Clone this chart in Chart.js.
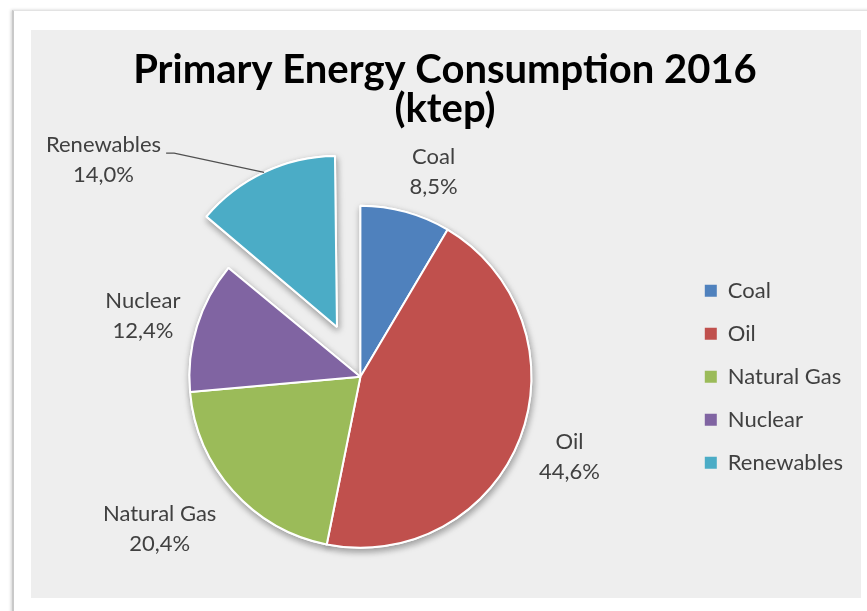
<!DOCTYPE html>
<html>
<head>
<meta charset="utf-8">
<script src="https://cdn.jsdelivr.net/npm/chart.js@4"></script>
<style>
  html, body { margin: 0; padding: 0; background: #fff; overflow: hidden; }
  #frame {
    position: absolute; left: 12px; top: 10px; width: 880px; height: 640px;
    border-left: 2px solid #c9c9c9; border-top: 1px solid #e3e3e3;
    box-shadow: -1px 0 3px rgba(0, 0, 0, 0.18);
  }
  #panel { position: absolute; left: 31px; top: 30px; width: 830px; height: 568px; background: #eeeeee; }
</style>
</head>
<body>
<div id="frame"></div>
<div id="panel"><canvas id="chart"></canvas></div>
<script>
const categories = ["Coal", "Oil", "Natural Gas", "Nuclear", "Renewables"];
const shares = [8.5, 44.6, 20.4, 12.4, 14.0]; // % of total
const sliceColors = ["#4f81bd", "#c0504d", "#9bbb59", "#8064a2", "#4bacc6"];
const explode = [0, 0, 0, 0, 220]; // chart.js moves a slice by offset/4
const titleLines = ["Primary Energy Consumption 2016", "(ktep)"];

// label spot relative to slice middle: [angle shift in deg, distance past the rim]
const labelPlace = [[4.3, 47], [0, 53], [4.7, 81], [-1.5, 55], [-29.2, 116]];

const RADIUS = 171;

// chart.js grows the radius of an exploded slice a bit, undo that
function radiusGrow(arc) {
  const off = (arc.options.offset || 0) / 4;
  const circ = arc.endAngle - arc.startAngle;
  return off * (1 - Math.sin(Math.min(Math.PI, circ)));
}

const keepRadius = {
  id: "keepRadius",
  afterDatasetUpdate(chart, args) {
    args.meta.data.forEach((arc) => {
      arc.outerRadius = RADIUS - radiusGrow(arc);
    });
  },
};

const pieShadow = {
  id: "pieShadow",
  beforeDatasetsDraw(chart) {
    const ctx = chart.ctx;
    ctx.save();
    ctx.shadowColor = "rgba(0,0,0,0.35)";
    ctx.shadowBlur = 7;
    ctx.shadowOffsetX = 1;
    ctx.shadowOffsetY = 3;
    chart.getDatasetMeta(0).data.forEach((a) => a.draw(ctx));
    ctx.restore();
  },
};

const sliceLabels = {
  id: "sliceLabels",
  afterDatasetsDraw(chart) {
    const ctx = chart.ctx;
    const meta = chart.getDatasetMeta(0);
    const total = shares.reduce((a, b) => a + b, 0);
    ctx.save();
    ctx.font = "22px Lato";
    ctx.fillStyle = "#404040";
    ctx.strokeStyle = "#505050";
    ctx.lineWidth = 1.2;
    ctx.textAlign = "center";
    ctx.textBaseline = "middle";
    meta.data.forEach((arc, i) => {
      const mid = (arc.startAngle + arc.endAngle) / 2;
      const off = (arc.options.offset || 0) / 4;
      const r = arc.outerRadius + radiusGrow(arc);
      const cx = arc.x + Math.cos(mid) * off;
      const cy = arc.y + Math.sin(mid) * off;
      const a = mid + (labelPlace[i][0] * Math.PI) / 180;
      const d = r + labelPlace[i][1];
      const lx = cx + Math.cos(a) * d;
      const ly = cy + Math.sin(a) * d;
      const pct = ((shares[i] / total) * 100).toFixed(1).replace(".", ",") + "%";
      ctx.fillText(categories[i], lx, ly - 15);
      ctx.fillText(pct, lx, ly + 15);
      if (off > 0) {
        // leader line from the label to the rim
        const w = ctx.measureText(categories[i]).width;
        const sx = lx + w / 2 + 5;
        const sy = ly - 15 + 8;
        ctx.beginPath();
        ctx.moveTo(sx, sy);
        ctx.lineTo(sx + 8, sy);
        ctx.lineTo(cx + Math.cos(mid) * r, cy + Math.sin(mid) * r);
        ctx.stroke();
      }
    });
    ctx.restore();
  },
};

const pieLegend = (Chart.overrides.pie || Chart.overrides.doughnut).plugins.legend.labels.generateLabels;

new Chart(document.getElementById("chart"), {
  type: "pie",
  data: {
    labels: categories,
    datasets: [
      {
        data: shares,
        backgroundColor: sliceColors,
        borderColor: "#ffffff",
        borderWidth: 2,
        offset: explode,
        radius: RADIUS,
      },
    ],
  },
  options: {
    responsive: true,
    maintainAspectRatio: false,
    animation: false,
    events: [],
    layout: { padding: { left: 6, right: 8, top: 0, bottom: 0 } },
    plugins: {
      title: {
        display: true,
        text: titleLines,
        color: "#000000",
        font: { family: "Lato", size: 40, weight: "bold", lineHeight: 0.97 },
        padding: { top: 21, bottom: 27 },
      },
      legend: {
        position: "right",
        fullSize: false,
        labels: {
          boxWidth: 12,
          boxHeight: 12,
          padding: 21,
          color: "#404040",
          font: { family: "Lato", size: 22 },
          generateLabels: (chart) => pieLegend(chart).map((l) => ({ ...l, lineWidth: 0 })),
        },
      },
      tooltip: { enabled: false },
    },
  },
  plugins: [keepRadius, pieShadow, sliceLabels],
});
</script>
</body>
</html>
